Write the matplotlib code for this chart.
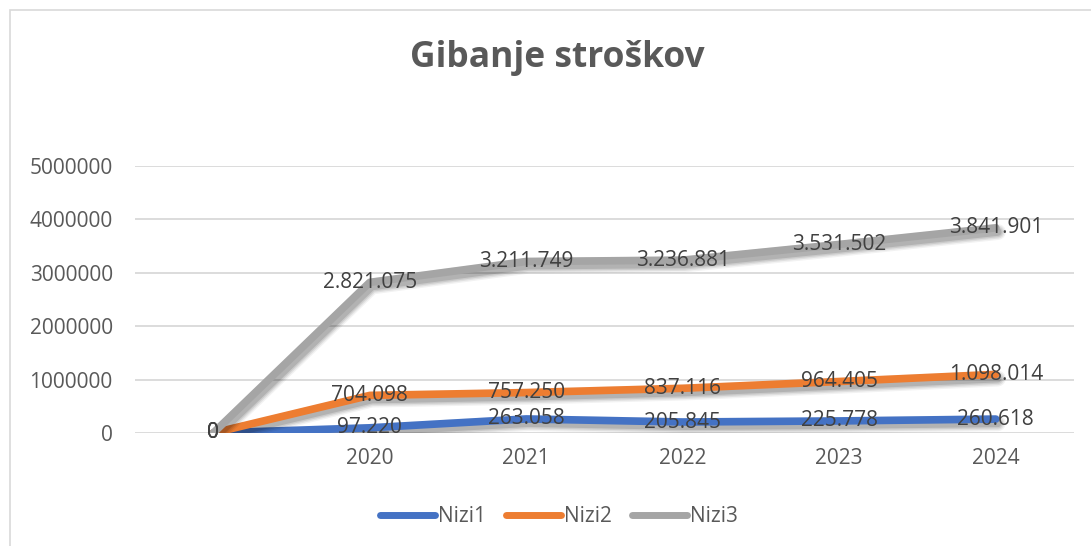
import matplotlib.pyplot as plt
import matplotlib.patheffects as pe
from matplotlib.patches import Rectangle

categories = ["", "2020", "2021", "2022", "2023", "2024"]
nizi1 = [0, 97220, 263058, 205845, 225778, 260618]
nizi2 = [0, 704098, 757250, 837116, 964405, 1098014]
nizi3 = [0, 2821075, 3211749, 3236881, 3531502, 3841901]
series = [("Nizi1", nizi1, "#4472C4"), ("Nizi2", nizi2, "#ED7D31"), ("Nizi3", nizi3, "#A5A5A5")]
yticks = [0, 1000000, 2000000, 3000000, 4000000, 5000000]

txt = "#595959"
plt.rcParams["font.family"] = ["Open Sans", "DejaVu Sans"]

W, H = 1091, 546
fig = plt.figure(figsize=(W / 100, H / 100), dpi=100)
ax = fig.add_axes([135 / W, 1 - 433 / H, (1074 - 135) / W, (433 - 166) / H])

# chart frame (partly cut off on the right and bottom)
fig.patches.append(Rectangle((10 / W, -0.1), 1.2, (H - 10) / H + 0.1, transform=fig.transFigure,
                             fill=False, edgecolor="#D9D9D9", linewidth=1.2))

x = list(range(len(categories)))
lw = 5.5
# soft blurred shadow under each line, built from a few faint layers
shadow = [pe.SimpleLineShadow(offset=(1.5, -3), shadow_color="black", alpha=a, linewidth=lw + w)
          for a, w in [(0.05, 6), (0.07, 4), (0.09, 2), (0.12, 0)]]
shadow.append(pe.Normal())
for name, vals, col in series:
    ax.plot(x, vals, color=col, lw=lw, solid_capstyle="round", solid_joinstyle="round",
            label=name, path_effects=shadow, zorder=3)
for name, vals, col in series:
    for xi, v in zip(x, vals):
        ax.text(xi, v, f"{v:,}".replace(",", "."), ha="center", va="center",
                fontsize=15, color="#404040", zorder=5, clip_on=False)

ax.set_xlim(-0.5, len(categories) - 0.5)
ax.set_ylim(0, 5000000)
ax.set_yticks(yticks)
ax.set_yticklabels([str(t) for t in yticks])
ax.set_xticks(x)
ax.set_xticklabels(categories)
ax.tick_params(axis="both", length=0, labelsize=15, labelcolor=txt)
ax.tick_params(axis="y", pad=16)
ax.tick_params(axis="x", pad=11)
ax.grid(axis="y", color="#D9D9D9", lw=1.3)
ax.set_axisbelow(True)
for s in ax.spines.values():
    s.set_visible(False)

fig.text(557 / W, 1 - 58 / H, "Gibanje stroškov", ha="center", va="center",
         fontsize=25.5, fontweight="bold", color=txt)

leg = ax.legend(loc="center", bbox_to_anchor=(559 / W, 1 - 517 / H), bbox_transform=fig.transFigure,
                ncol=3, frameon=False, fontsize=15, handlelength=2.6, handletextpad=0.15,
                columnspacing=1.0, labelcolor=txt)
for h in leg.get_lines():
    h.set_path_effects([])
    h.set_linewidth(5)

fig.savefig("out.png", dpi=100)
